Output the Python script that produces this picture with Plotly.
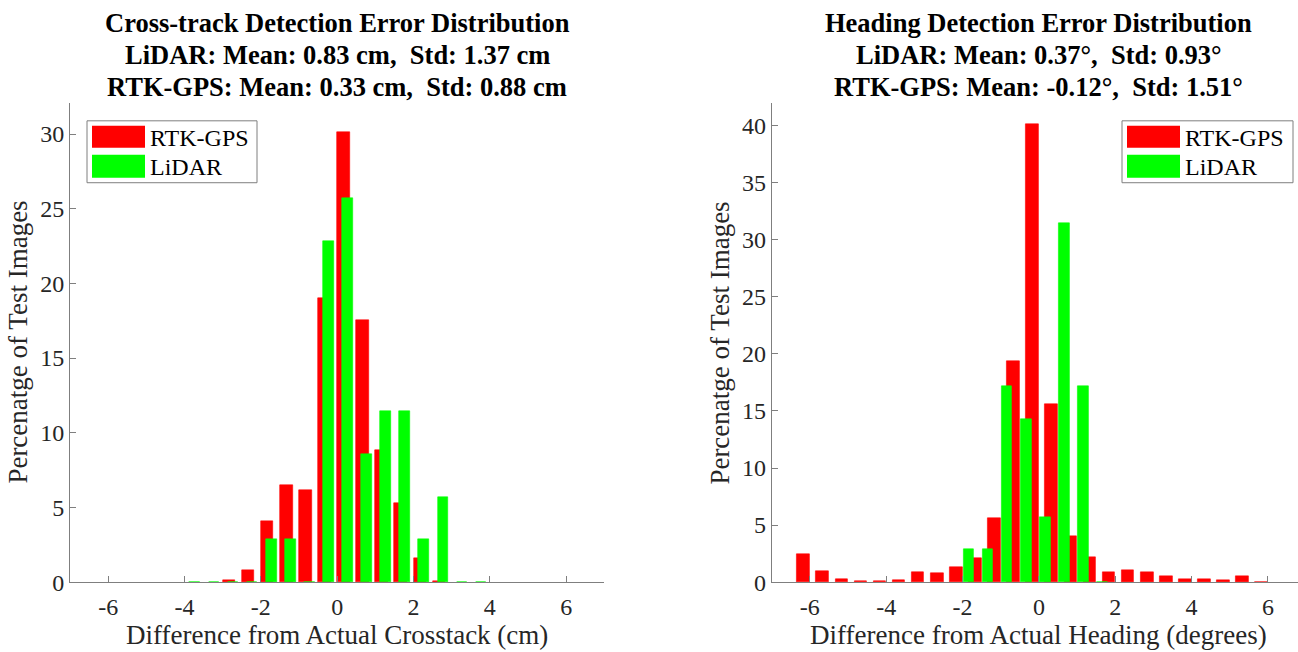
import plotly.graph_objects as go

# ---- data -------------------------------------------------------------
series_names = ["RTK-GPS", "LiDAR"]

# Cross-track error histogram (bin centres in cm, percentage of test images)
crosstrack_bins = [-3.75, -3.25, -2.75, -2.25, -1.75, -1.25, -0.75, -0.25,
                   0.25, 0.75, 1.25, 1.75, 2.25, 2.75, 3.25, 3.75]
crosstrack_gps = [None, None, 0.16, 0.80, 4.07, 6.49, 6.16, 19.04,
                  30.10, 17.56, 8.82, 5.29, 1.60, 0.05, None, None]
crosstrack_lidar = [0, 0, 0, 0, 2.86, 2.86, 0, 22.86,
                    25.71, 8.57, 11.43, 11.43, 2.86, 5.71, 0, 0]

# Heading error histogram (bin centres in degrees, percentage of test images)
heading_bins = [-6.25, -5.75, -5.25, -4.75, -4.25, -3.75, -3.25, -2.75, -2.25,
                -1.75, -1.25, -0.75, -0.25, 0.25, 0.75, 1.25, 1.75, 2.25,
                2.75, 3.25, 3.75, 4.25, 4.75, 5.25, 5.75]
heading_gps = [2.46, 0.95, 0.30, 0.06, 0.12, 0.17, 0.90, 0.79, 1.27,
               2.08, 5.62, 19.40, 40.10, 15.57, 4.02, 2.20, 0.85, 1.05,
               0.85, 0.55, 0.29, 0.30, 0.20, 0.48, 0.04]
heading_lidar = [None, None, None, None, None, None, None, None, None,
                 2.86, 2.86, 17.14, 14.29, 5.71, 31.43, 17.14, 0, None,
                 None, None, None, None, None, None, None]

x_tick_vals = [-6, -4, -2, 0, 2, 4, 6]
x_tick_text = ["-6", "-4", "-2", "0", "2", "4", "6"]
left_y_ticks = [0, 5, 10, 15, 20, 25, 30]
right_y_ticks = [0, 5, 10, 15, 20, 25, 30, 35, 40]

left_titles = ["Cross-track Detection Error Distribution",
               "LiDAR: Mean: 0.83 cm,  Std: 1.37 cm",
               "RTK-GPS: Mean: 0.33 cm,  Std: 0.88 cm"]
right_titles = ["Heading Detection Error Distribution",
                "LiDAR: Mean: 0.37°,  Std: 0.93°",
                "RTK-GPS: Mean: -0.12°,  Std: 1.51°"]
left_xlabel = "Difference from Actual Crosstack (cm)"
right_xlabel = "Difference from Actual Heading (degrees)"
ylabel = "Percenatge of Test Images"

# ---- styling ----------------------------------------------------------
W, H = 1298, 664
GRID_H = 652          # vertical layout grid the positions below are laid out on
RED, GREEN = "#ff0000", "#00ff00"
FONT = "Liberation Serif"
AXIS_COLOR = "#7f7f7f"
TEXT_COLOR = "#262626"

def px_x(p):
    return p / W

def px_y(p):
    return 1 - p / GRID_H

PX_PER_UNIT = 38.17
L_LEFT, R_LEFT = 70, 70 + 14 * PX_PER_UNIT
L_RIGHT = 771.7
TOP, BOTTOM = 103.3, 583

fig = go.Figure()

def add_bars(bins, gps, lidar, xa, ya, gps_shift, lidar_shift):
    fig.add_trace(go.Bar(
        x=[b + gps_shift for b in bins], y=gps, width=0.33,
        marker=dict(color=RED, line=dict(color=RED, width=0.6)),
        name=series_names[0], xaxis=xa, yaxis=ya, showlegend=False))
    fig.add_trace(go.Bar(
        x=[b + lidar_shift for b in bins], y=lidar, width=0.28,
        marker=dict(color=GREEN, line=dict(color=GREEN, width=0.6)),
        name=series_names[1], xaxis=xa, yaxis=ya, showlegend=False))

add_bars(crosstrack_bins, crosstrack_gps, crosstrack_lidar, "x", "y", -0.085, 0.02)
add_bars(heading_bins, heading_gps, heading_lidar, "x2", "y2", 0.08, -0.09)

axis_common = dict(
    showline=True, linecolor=AXIS_COLOR, linewidth=1,
    ticks="inside", ticklen=6, tickcolor=AXIS_COLOR, tickwidth=1,
    showgrid=False, zeroline=False,
    tickfont=dict(family=FONT, size=24, color=TEXT_COLOR),
)

right_max = -7 + (W - L_RIGHT) / PX_PER_UNIT

fig.update_layout(
    width=W, height=H,
    margin=dict(l=0, r=0, t=0, b=0),
    paper_bgcolor="white", plot_bgcolor="white",
    barmode="overlay", bargap=0,
    showlegend=False,
    xaxis=dict(domain=[px_x(L_LEFT), px_x(R_LEFT)], range=[-7, 7],
               tickvals=x_tick_vals, ticktext=x_tick_text, anchor="y",
               ticklabelstandoff=3, **axis_common),
    yaxis=dict(domain=[px_y(BOTTOM), px_y(TOP)], range=[0, 32.07],
               tickvals=left_y_ticks, anchor="x", **axis_common),
    xaxis2=dict(domain=[px_x(L_RIGHT), 1.0], range=[-7, right_max],
                tickvals=x_tick_vals, ticktext=x_tick_text, anchor="y2",
                ticklabelstandoff=3, **axis_common),
    yaxis2=dict(domain=[px_y(BOTTOM), px_y(TOP)], range=[0, 41.98],
                tickvals=right_y_ticks, anchor="x2", **axis_common),
)

annotations = []
shapes = []

# Three-line bold titles centred over each axes
for lines, cx in ((left_titles, (L_LEFT + R_LEFT) / 2),
                  (right_titles, L_RIGHT + 7 * PX_PER_UNIT)):
    for text, cy in zip(lines, (23, 55, 87)):
        annotations.append(dict(
            text=f"<b>{text}</b>", x=px_x(cx), y=px_y(cy),
            xref="paper", yref="paper", xanchor="center", yanchor="middle",
            showarrow=False, font=dict(family=FONT, size=26.5, color="black")))

# Axis labels
for text, cx in ((left_xlabel, (L_LEFT + R_LEFT) / 2),
                 (right_xlabel, L_RIGHT + 7 * PX_PER_UNIT)):
    annotations.append(dict(
        text=text, x=px_x(cx), y=px_y(636), xref="paper", yref="paper",
        xanchor="center", yanchor="middle", showarrow=False,
        font=dict(family=FONT, size=27, color=TEXT_COLOR)))
for cx in (18, 720):
    annotations.append(dict(
        text=ylabel, x=px_x(cx), y=px_y((TOP + BOTTOM) / 2),
        xref="paper", yref="paper", xanchor="center", yanchor="middle",
        textangle=-90, showarrow=False,
        font=dict(family=FONT, size=27, color=TEXT_COLOR)))

# Legend boxes with wide colour patches
for bx0, bx1 in ((87, 257), (1122, 1293)):
    shapes.append(dict(type="rect", xref="paper", yref="paper",
                       x0=px_x(bx0), x1=px_x(bx1), y0=px_y(183), y1=px_y(121),
                       line=dict(color="#7f7f7f", width=1), fillcolor="white"))
    for (py0, py1), color, name in (((126, 148), RED, series_names[0]),
                                    ((155, 178), GREEN, series_names[1])):
        shapes.append(dict(type="rect", xref="paper", yref="paper",
                           x0=px_x(bx0 + 5), x1=px_x(bx0 + 58),
                           y0=px_y(py1), y1=px_y(py0),
                           line=dict(width=0), fillcolor=color))
        annotations.append(dict(
            text=name, x=px_x(bx0 + 61), y=px_y((py0 + py1) / 2 + 1),
            xref="paper", yref="paper", xanchor="left", yanchor="middle",
            showarrow=False, font=dict(family=FONT, size=24, color="black")))

fig.update_layout(annotations=annotations, shapes=shapes)

fig.write_html("out.html")
